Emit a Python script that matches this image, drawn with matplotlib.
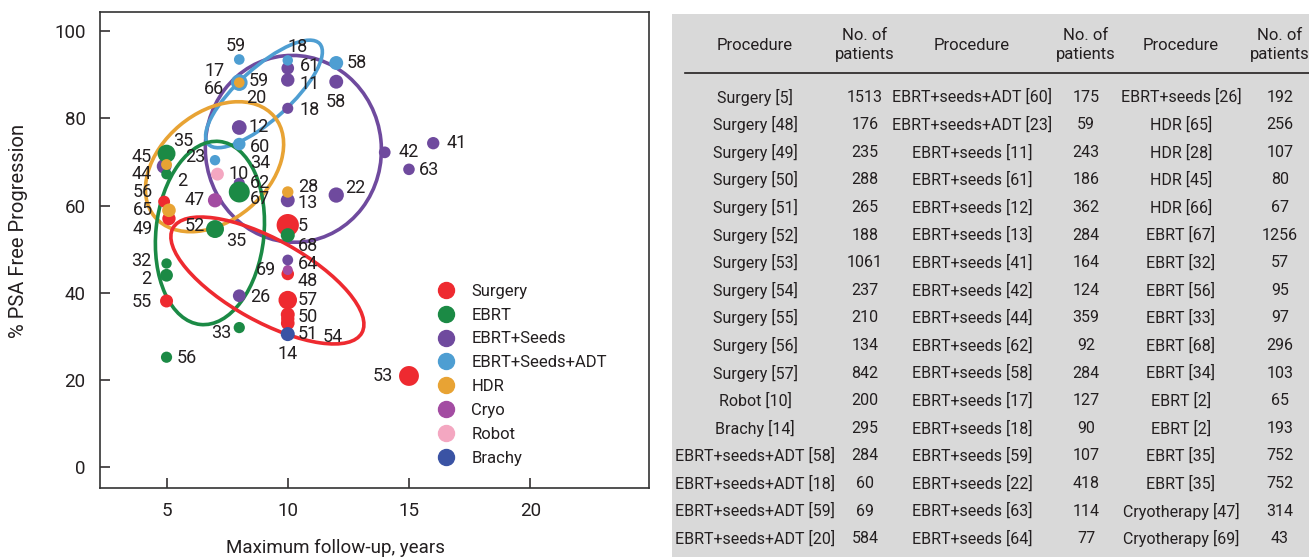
import matplotlib
matplotlib.use("Agg")
import matplotlib.pyplot as plt
import matplotlib.transforms as mtransforms
from matplotlib.patches import Ellipse
from matplotlib.lines import Line2D
import numpy as np

plt.rcParams['font.family'] = ['Roboto', 'DejaVu Sans']
TXT = '#231F20'

# ---------------- scatter data ----------------
groups = ['Surgery', 'EBRT', 'EBRT+Seeds', 'EBRT+Seeds+ADT', 'HDR', 'Cryo', 'Robot', 'Brachy']

surgery_ref = [5, 48, 49, 50, 51, 52, 53, 54, 55, 56, 57]
surgery_x = [10, 10, 5.1, 10, 10, 7, 15, 10, 5, 4.9, 10]
surgery_y = [55.5, 44.3, 57.0, 35.0, 33.0, 54.6, 20.9, 34.0, 38.1, 60.9, 38.3]
surgery_n = [1513, 176, 235, 288, 265, 188, 1061, 237, 210, 134, 842]

ebrt_ref = [67, 32, 56, 33, 68, 34, 2, 2, 35, 35]
ebrt_x = [8, 5, 5, 8, 10, 8, 5, 5, 5, 7]
ebrt_y = [63.1, 46.7, 25.2, 32.0, 53.2, 64.0, 67.2, 44.0, 71.9, 54.6]
ebrt_n = [1256, 57, 95, 97, 296, 103, 65, 193, 752, 752]

seeds_ref = [11, 61, 12, 13, 41, 42, 44, 62, 58, 17, 18, 59, 22, 63, 64, 26]
seeds_x = [10, 10, 8, 10, 16, 14, 4.9, 8, 12, 8, 10, 8, 12, 15, 10, 8]
seeds_y = [88.8, 91.5, 77.9, 61.2, 74.3, 72.2, 69.0, 65.1, 88.4, 88.2, 82.3, 88.2, 62.4, 68.3, 47.5, 39.3]
seeds_n = [243, 186, 362, 284, 164, 124, 359, 92, 284, 127, 90, 107, 418, 114, 77, 192]

adt_ref = [58, 18, 59, 20, 60, 23]
adt_x = [12, 10, 8, 8, 8, 7]
adt_y = [92.7, 93.3, 93.5, 88.2, 74.1, 70.4]
adt_n = [284, 60, 69, 584, 175, 59]

hdr_ref = [65, 28, 45, 66]
hdr_x = [5.1, 10, 5, 8]
hdr_y = [58.9, 63.1, 69.4, 88.2]
hdr_n = [256, 107, 80, 67]

cryo_ref = [47, 69]
cryo_x = [7, 10]
cryo_y = [61.2, 45.2]
cryo_n = [314, 43]

robot_ref = [10]
robot_x = [7.1]
robot_y = [67.2]
robot_n = [200]

brachy_ref = [14]
brachy_x = [10]
brachy_y = [30.5]
brachy_n = [295]

# ---------------- table data ----------------
col1_proc = ['Surgery [5]', 'Surgery [48]', 'Surgery [49]', 'Surgery [50]', 'Surgery [51]',
             'Surgery [52]', 'Surgery [53]', 'Surgery [54]', 'Surgery [55]', 'Surgery [56]',
             'Surgery [57]', 'Robot [10]', 'Brachy [14]', 'EBRT+seeds+ADT [58]',
             'EBRT+seeds+ADT [18]', 'EBRT+seeds+ADT [59]', 'EBRT+seeds+ADT [20]']
col1_n = [1513, 176, 235, 288, 265, 188, 1061, 237, 210, 134, 842, 200, 295, 284, 60, 69, 584]
col2_proc = ['EBRT+seeds+ADT [60]', 'EBRT+seeds+ADT [23]', 'EBRT+seeds [11]', 'EBRT+seeds [61]',
             'EBRT+seeds [12]', 'EBRT+seeds [13]', 'EBRT+seeds [41]', 'EBRT+seeds [42]',
             'EBRT+seeds [44]', 'EBRT+seeds [62]', 'EBRT+seeds [58]', 'EBRT+seeds [17]',
             'EBRT+seeds [18]', 'EBRT+seeds [59]', 'EBRT+seeds [22]', 'EBRT+seeds [63]',
             'EBRT+seeds [64]']
col2_n = [175, 59, 243, 186, 362, 284, 164, 124, 359, 92, 284, 127, 90, 107, 418, 114, 77]
col3_proc = ['EBRT+seeds [26]', 'HDR [65]', 'HDR [28]', 'HDR [45]', 'HDR [66]', 'EBRT [67]',
             'EBRT [32]', 'EBRT [56]', 'EBRT [33]', 'EBRT [68]', 'EBRT [34]', 'EBRT [2]',
             'EBRT [2]', 'EBRT [35]', 'EBRT [35]', 'Cryotherapy [47]', 'Cryotherapy [69]']
col3_n = [192, 256, 107, 80, 67, 1256, 57, 95, 97, 296, 103, 65, 193, 752, 752, 314, 43]

# ---------------- styles / layout ----------------
colors = {'Surgery': '#EE2A30', 'EBRT': '#1B8A45', 'EBRT+Seeds': '#6F4A9E',
          'EBRT+Seeds+ADT': '#4E9ED2', 'HDR': '#E8A334', 'Cryo': '#A34CA2',
          'Robot': '#F4A7C1', 'Brachy': '#3A53A4'}

# label offsets in pixels (dx, dy, ha)
surgery_lab = [(10, -1, 'left'), (10, -7, 'left'), (-16, -10, 'right'), (10, -3, 'left'),
               (10, -11, 'left'), (-10, 3, 'right'), (-16, 0, 'right'), (35, -18, 'left'),
               (-15, -1, 'right'), (-11, 10, 'right'), (10, 0, 'left')]
ebrt_lab = [(11, -7, 'left'), (-15, 2, 'right'), (10, -1, 'left'), (-8, -5, 'right'),
            (10, -11, 'left'), (11, 25, 'left'), (11, -7, 'left'), (-15, -4, 'right'),
            (7, 13, 'left'), (11, -12, 'left')]
seeds_lab = [(12, -4, 'left'), (12, 2, 'left'), (9, 0, 'left'), (10, -3, 'left'),
             (13, 0, 'left'), (14, 0, 'left'), (-12, -8, 'right'), (11, 0, 'left'),
             (0, -20, 'center'), (-15, 12, 'right'), (12, -2, 'left'), (9, 2, 'left'),
             (9, 7, 'left'), (10, -1, 'left'), (10, -4, 'left'), (11, -1, 'left')]
adt_lab = [(10, 0, 'left'), (10, 13, 'center'), (-3, 13, 'center'), (7, -15, 'left'),
           (11, -3, 'left'), (-10, 3, 'right')]
hdr_lab = [(-16, 0, 'right'), (10, 5, 'left'), (-15, 8, 'right'), (-15, -6, 'right')]
cryo_lab = [(-10, 0, 'right'), (-12, 0, 'right')]
robot_lab = [(11, 0, 'left')]
brachy_lab = [(0, -20, 'center')]

# draw order (later on top)
series = [
    ('Surgery', surgery_ref, surgery_x, surgery_y, surgery_n, surgery_lab),
    ('Cryo', cryo_ref, cryo_x, cryo_y, cryo_n, cryo_lab),
    ('EBRT+Seeds', seeds_ref, seeds_x, seeds_y, seeds_n, seeds_lab),
    ('EBRT+Seeds+ADT', adt_ref, adt_x, adt_y, adt_n, adt_lab),
    ('EBRT', ebrt_ref, ebrt_x, ebrt_y, ebrt_n, ebrt_lab),
    ('HDR', hdr_ref, hdr_x, hdr_y, hdr_n, hdr_lab),
    ('Robot', robot_ref, robot_x, robot_y, robot_n, robot_lab),
    ('Brachy', brachy_ref, brachy_x, brachy_y, brachy_n, brachy_lab),
]

# ellipses: group, centre (data), semi-axes (pixels), angle (deg)
ellipses = [
    ('EBRT+Seeds', 10.23, 73.0, 88, 93.5, 6),
    ('EBRT+Seeds+ADT', 9.02, 85.6, 75, 26, 42),
    ('HDR', 6.98, 68.9, 78, 54, 40),
    ('EBRT', 6.79, 53.7, 54, 92, -6),
    ('Surgery', 9.16, 42.8, 108, 41, -29),
]

fig = plt.figure(figsize=(13.09, 5.57), dpi=100)
ax = fig.add_axes([0.0761, 0.1239, 0.4197, 0.8546])
ax.set_xlim(2.24, 24.9)
ax.set_ylim(-4.8, 104.4)
ax.set_xticks([5, 10, 15, 20])
ax.set_yticks([0, 20, 40, 60, 80, 100])
ax.tick_params(direction='in', length=7, width=1.1, labelsize=13.5, colors=TXT, pad=10)
for s in ax.spines.values():
    s.set_linewidth(1.2)
    s.set_color('#333333')

for g, cx, cy, a, b, ang in ellipses:
    tr = mtransforms.Affine2D().scale(fig.dpi / 100.0) + \
        mtransforms.ScaledTranslation(cx, cy, ax.transData)
    e = Ellipse((0, 0), 2 * a, 2 * b, angle=ang, transform=tr, fill=False,
                ec=colors[g], lw=2.6, zorder=2)
    ax.add_patch(e)

for g, refs, xs, ys, ns, labs in series:
    d_px = 7.5 + 0.38 * np.sqrt(np.array(ns, dtype=float))
    sizes = (d_px * 72 / 100.0) ** 2
    ax.scatter(xs, ys, s=sizes, color=colors[g], edgecolors='none', zorder=3)
    for r, x, y, (dx, dy, ha) in zip(refs, xs, ys, labs):
        ax.annotate(str(r), (x, y), xytext=(dx, dy), textcoords='offset pixels',
                    ha=ha, va='center', fontsize=13, color=TXT, zorder=4)

handles = [Line2D([], [], marker='o', ls='', color=colors[g], markersize=11.5) for g in groups]
leg = ax.legend(handles, groups, loc='upper left', bbox_to_anchor=(0.616, 0.429),
                frameon=False, fontsize=12, handlelength=1.0, handletextpad=1.0,
                labelspacing=0.53, borderpad=0, borderaxespad=0)
for t in leg.get_texts():
    t.set_color(TXT)

ax.set_ylabel('% PSA Free Progression', fontsize=14.5, color=TXT)
ax.yaxis.label.set_va('center')
ax.yaxis.set_label_coords(-0.1485, 0.54)
ax.set_xlabel('Maximum follow-up, years', fontsize=13.5, color=TXT)
ax.xaxis.label.set_va('center')
ax.xaxis.set_label_coords(0.4285, -0.126)

# ---------------- table ----------------
tx = fig.add_axes([672 / 1309, 0, 637 / 1309, 543 / 557])
tx.set_facecolor('#D9D9D9')
tx.set_xlim(672, 1309)
tx.set_ylim(557, 14)
for s in tx.spines.values():
    s.set_visible(False)
tx.set_xticks([])
tx.set_yticks([])

tfont = ['Roboto', 'DejaVu Sans']
tsize = 11.5
proc_x = [755, 972, 1181]
num_x = [865, 1086, 1280]
for px_, nx_ in zip(proc_x, num_x):
    tx.text(px_, 45, 'Procedure', ha='center', va='center', fontsize=tsize + 0.5,
            family=tfont, color=TXT)
    tx.text(nx_, 45, 'No. of\npatients', ha='center', va='center', fontsize=tsize + 0.5,
            family=tfont, color=TXT, linespacing=1.4)
tx.plot([685, 1309], [73, 73], color=TXT, lw=1.2)

row_y = 97 + 27.6 * np.arange(len(col1_proc))
for procs, nums, px_, nx_ in [(col1_proc, col1_n, proc_x[0], num_x[0]),
                              (col2_proc, col2_n, proc_x[1], num_x[1]),
                              (col3_proc, col3_n, proc_x[2], num_x[2])]:
    for yv, p, n in zip(row_y, procs, nums):
        tx.text(px_, yv, p, ha='center', va='center', fontsize=tsize, family=tfont, color=TXT)
        tx.text(nx_, yv, str(n), ha='center', va='center', fontsize=tsize, family=tfont, color=TXT)

fig.savefig('out.png', dpi=100)
